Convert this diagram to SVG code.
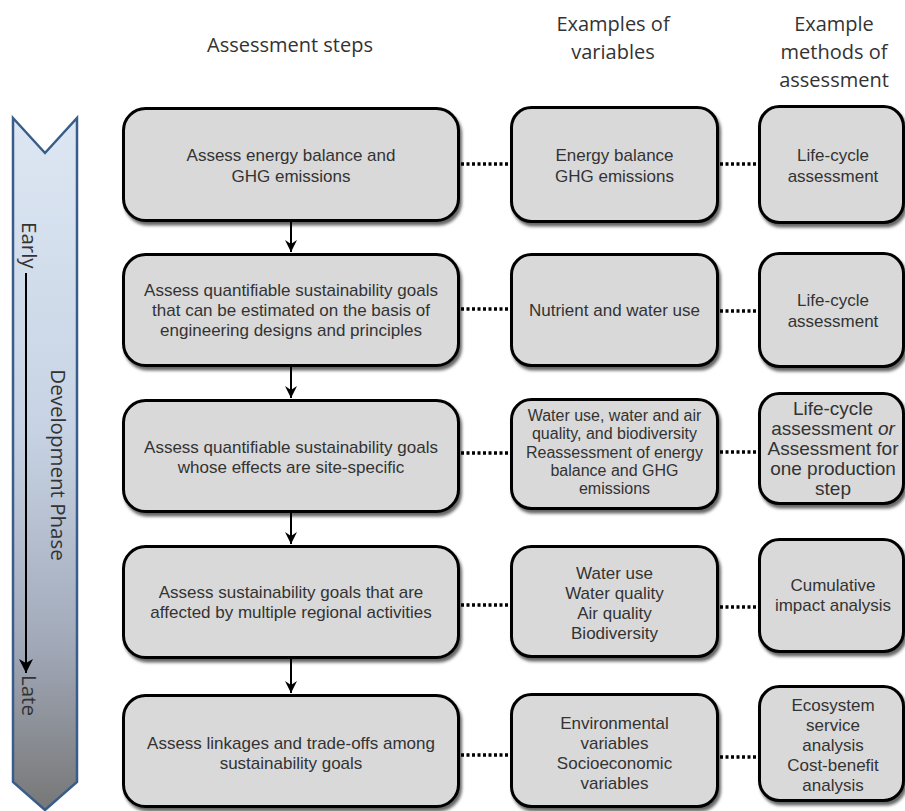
<svg xmlns="http://www.w3.org/2000/svg" width="905" height="811" viewBox="0 0 905 811">
  <defs>
    <linearGradient id="phaseGrad" x1="0" y1="0" x2="0" y2="1">
      <stop offset="0" stop-color="#dde7f3"/>
      <stop offset="0.45" stop-color="#c7d3e4"/>
      <stop offset="0.75" stop-color="#a3abbb"/>
      <stop offset="1" stop-color="#777777"/>
    </linearGradient>
    <filter id="shadow" x="-10%" y="-10%" width="125%" height="130%">
      <feDropShadow dx="2" dy="3.5" stdDeviation="1.6" flood-color="#000" flood-opacity="0.6"/>
    </filter>
    <marker id="arrow" viewBox="0 0 12 12" refX="12" refY="6" markerWidth="12" markerHeight="12" markerUnits="userSpaceOnUse" orient="auto">
      <path d="M0,0 L12,6 L0,12 L4,6 Z" fill="#000"/>
    </marker>
    <marker id="arrowPhase" viewBox="0 0 14 14" refX="14" refY="7" markerWidth="14" markerHeight="14" markerUnits="userSpaceOnUse" orient="auto">
      <path d="M0,0 L14,7 L0,14 L4,7 Z" fill="#000"/>
    </marker>
  </defs>
  <style>
    .box { fill: #d9d9d9; stroke: #000; stroke-width: 3; filter: url(#shadow); }
    .t { font-family: "Liberation Sans", Arial, sans-serif; font-size: 17px; fill: #333; text-anchor: middle; }
    .t16 { font-size: 16px; }
    .t19 { font-size: 19px; }
    .hdr { font-family: "Open Sans", "Liberation Sans", sans-serif; font-size: 20px; fill: #333; text-anchor: middle; }
    .side { font-family: "Open Sans", "Liberation Sans", sans-serif; font-size: 20.5px; fill: #333; }
    .dot { stroke: #000; stroke-width: 3.5; stroke-dasharray: 3 2.5; fill: none; }
    .flow { stroke: #000; stroke-width: 2; fill: none; marker-end: url(#arrow); }
  </style>

  <rect width="905" height="811" fill="#fff"/>

  <!-- Headers -->
  <g id="headers">
    <text class="hdr" x="290" y="52">Assessment steps</text>
    <text class="hdr" x="613" y="31">Examples of</text>
    <text class="hdr" x="613" y="59">variables</text>
    <text class="hdr" x="834" y="31">Example</text>
    <text class="hdr" x="834" y="59">methods of</text>
    <text class="hdr" x="834" y="87">assessment</text>
  </g>

  <!-- Development phase arrow -->
  <g id="phase">
    <polygon points="13,118 45,153 77,118 77,782 45,810 13,782" fill="url(#phaseGrad)" stroke="#385d8a" stroke-width="2.5" stroke-linejoin="miter"/>
    <text class="side" transform="translate(22,222) rotate(90)">Early</text>
    <line x1="26" y1="273" x2="26" y2="673" stroke="#000" stroke-width="2" marker-end="url(#arrowPhase)"/>
    <text class="side" transform="translate(22,675) rotate(90)">Late</text>
    <text class="side" transform="translate(51,465) rotate(90)" text-anchor="middle">Development Phase</text>
  </g>

  <!-- Connectors -->
  <g id="connectors">
    <line class="flow" x1="291" y1="222" x2="291" y2="252"/>
    <line class="flow" x1="291" y1="367" x2="291" y2="398"/>
    <line class="flow" x1="291" y1="513" x2="291" y2="544"/>
    <line class="flow" x1="291" y1="659" x2="291" y2="693"/>

    <line class="dot" x1="461" y1="164" x2="510" y2="164"/>
    <line class="dot" x1="720" y1="164" x2="758" y2="164"/>
    <line class="dot" x1="461" y1="309" x2="510" y2="309"/>
    <line class="dot" x1="720" y1="311" x2="758" y2="311"/>
    <line class="dot" x1="461" y1="453" x2="510" y2="453"/>
    <line class="dot" x1="720" y1="452" x2="758" y2="452"/>
    <line class="dot" x1="461" y1="605" x2="510" y2="605"/>
    <line class="dot" x1="720" y1="607" x2="758" y2="607"/>
    <line class="dot" x1="461" y1="755" x2="510" y2="755"/>
    <line class="dot" x1="720" y1="757" x2="758" y2="757"/>
  </g>

  <!-- Column 1: assessment steps -->
  <g id="step1">
    <rect class="box" x="123.5" y="108.5" width="335" height="112" rx="22"/>
    <text class="t" x="291" y="161">Assess energy balance and</text>
    <text class="t" x="291" y="182">GHG emissions</text>
  </g>
  <g id="step2">
    <rect class="box" x="123.5" y="254.5" width="335" height="111" rx="22"/>
    <text class="t" x="291" y="296">Assess quantifiable sustainability goals</text>
    <text class="t" x="291" y="316">that can be estimated on the basis of</text>
    <text class="t" x="291" y="336">engineering designs and principles</text>
  </g>
  <g id="step3">
    <rect class="box" x="123.5" y="400.5" width="335" height="111" rx="22"/>
    <text class="t" x="291" y="453">Assess quantifiable sustainability goals</text>
    <text class="t" x="291" y="473">whose effects are site-specific</text>
  </g>
  <g id="step4">
    <rect class="box" x="123.5" y="546.5" width="335" height="111" rx="22"/>
    <text class="t" x="291" y="598">Assess sustainability goals that are</text>
    <text class="t" x="291" y="618">affected by multiple regional activities</text>
  </g>
  <g id="step5">
    <rect class="box" x="123.5" y="695.5" width="335" height="111" rx="22"/>
    <text class="t" x="291" y="749">Assess linkages and trade-offs among</text>
    <text class="t" x="291" y="769">sustainability goals</text>
  </g>

  <!-- Column 2: variables -->
  <g id="var1">
    <rect class="box" x="511.5" y="107.5" width="206" height="114" rx="20"/>
    <text class="t" x="614.5" y="161">Energy balance</text>
    <text class="t" x="614.5" y="182">GHG emissions</text>
  </g>
  <g id="var2">
    <rect class="box" x="511.5" y="254.5" width="206" height="111" rx="20"/>
    <text class="t" x="614.5" y="316">Nutrient and water use</text>
  </g>
  <g id="var3">
    <rect class="box" x="511.5" y="399.5" width="206" height="109" rx="20"/>
    <text class="t t16" x="614.5" y="421">Water use, water and air</text>
    <text class="t t16" x="614.5" y="439">quality, and biodiversity</text>
    <text class="t t16" x="614.5" y="458">Reassessment of energy</text>
    <text class="t t16" x="614.5" y="476">balance and GHG</text>
    <text class="t t16" x="614.5" y="494">emissions</text>
  </g>
  <g id="var4">
    <rect class="box" x="511.5" y="546.5" width="206" height="110" rx="20"/>
    <text class="t" x="614.5" y="579">Water use</text>
    <text class="t" x="614.5" y="599">Water quality</text>
    <text class="t" x="614.5" y="619">Air quality</text>
    <text class="t" x="614.5" y="639">Biodiversity</text>
  </g>
  <g id="var5">
    <rect class="box" x="511.5" y="694.5" width="206" height="112" rx="20"/>
    <text class="t" x="614.5" y="729">Environmental</text>
    <text class="t" x="614.5" y="749">variables</text>
    <text class="t" x="614.5" y="769">Socioeconomic</text>
    <text class="t" x="614.5" y="789">variables</text>
  </g>

  <!-- Column 3: methods -->
  <g id="method1">
    <rect class="box" x="759.5" y="106.5" width="144" height="116" rx="20"/>
    <text class="t" x="833" y="161">Life-cycle</text>
    <text class="t" x="833" y="182">assessment</text>
  </g>
  <g id="method2">
    <rect class="box" x="759.5" y="253.5" width="144" height="113" rx="20"/>
    <text class="t" x="833" y="306">Life-cycle</text>
    <text class="t" x="833" y="327">assessment</text>
  </g>
  <g id="method3">
    <rect class="box" x="759.5" y="393.5" width="144" height="110" rx="20"/>
    <text class="t t19" x="833" y="415">Life-cycle</text>
    <text class="t t19" x="833" y="435">assessment <tspan font-style="italic">or</tspan></text>
    <text class="t t19" x="833" y="455">Assessment for</text>
    <text class="t t19" x="833" y="475">one production</text>
    <text class="t t19" x="833" y="495">step</text>
  </g>
  <g id="method4">
    <rect class="box" x="759.5" y="539.5" width="144" height="112" rx="20"/>
    <text class="t" x="833" y="591">Cumulative</text>
    <text class="t" x="833" y="611">impact analysis</text>
  </g>
  <g id="method5">
    <rect class="box" x="759.5" y="686.5" width="144" height="114" rx="20"/>
    <text class="t" x="833" y="711">Ecosystem</text>
    <text class="t" x="833" y="731">service</text>
    <text class="t" x="833" y="751">analysis</text>
    <text class="t" x="833" y="771">Cost-benefit</text>
    <text class="t" x="833" y="791">analysis</text>
  </g>
</svg>
